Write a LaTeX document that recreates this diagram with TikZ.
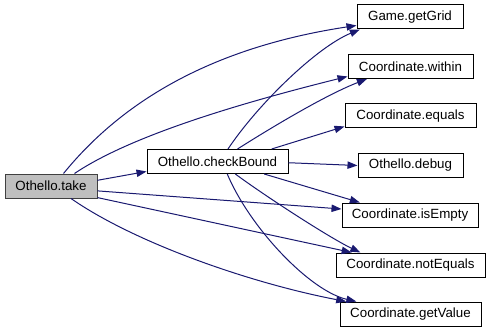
\documentclass[tikz,border=0pt]{standalone}
\usepackage{fontspec}
\setmainfont{Liberation Sans}
\usetikzlibrary{arrows.meta}
\definecolor{edgeblue}{HTML}{191970}
\definecolor{curfill}{HTML}{BFBFBF}
\begin{document}
\begin{tikzpicture}[x=0.75pt,y=-0.75pt,
  fn/.style={draw=black, line width=0.75pt, fill=white, minimum height=18pt,
             inner sep=0pt, font=\fontsize{10}{12}\selectfont},
  cur/.style={fn, fill=curfill, draw=black!75},
  call/.style={draw=edgeblue, line width=0.75pt,
               -{Triangle[length=7.5pt,width=5.5pt]}}
]
\useasboundingbox (0,0) rectangle (491,331);

% functions
\node[cur, minimum width=69pt]     (take)      at (51,186)    {Othello.take};
\node[fn,  minimum width=105.75pt] (check)     at (217.5,161.5) {Othello.checkBound};
\node[fn,  minimum width=79.5pt]   (grid)      at (410,17)    {Game.getGrid};
\node[fn,  minimum width=93.75pt]  (within)    at (410.5,66.5) {Coordinate.within};
\node[fn,  minimum width=98.25pt]  (equals)    at (410.5,116) {Coordinate.equals};
\node[fn,  minimum width=78.75pt]  (debug)     at (410.5,165.5) {Othello.debug};
\node[fn,  minimum width=102pt]    (isempty)   at (410,215)   {Coordinate.isEmpty};
\node[fn,  minimum width=111.75pt] (notequals) at (410.5,265) {Coordinate.notEquals};
\node[fn,  minimum width=105.75pt] (getvalue)  at (410.5,314) {Coordinate.getValue};

% calls made by Othello.take
\draw[call] (take.45) .. controls (120,104) and (208,48) .. (grid.189.8);
\draw[call] (take.28.6) .. controls (133,134) and (249,101) .. (within.189.7);
\draw[call] (take.7.4) -- (check.188.5);
\draw[call] (take.-6.2) -- (isempty.175.8);
\draw[call] (take.-14) -- (notequals.168.8);
\draw[call] (take.-32.3) .. controls (135,243) and (250,283) .. (getvalue.169.1);

% calls made by Othello.checkBound
\draw[call] (check.50) .. controls (258,104) and (317,47) .. (grid.194);
\draw[call] (check.32.7) .. controls (277,124) and (328,94) .. (within.196.4);
\draw[call] (check.13.9) -- (equals.189.7);
\draw[call] (check.-1.2) -- (debug.180);
\draw[call] (check.-15.4) -- (isempty.166.5);
\draw[call] (check.-35.5) .. controls (265,196) and (330,238) .. (notequals.166.6);
\draw[call] (check.-52.8) .. controls (250,228) and (310,291) .. (getvalue.167.1);
\end{tikzpicture}
\end{document}
